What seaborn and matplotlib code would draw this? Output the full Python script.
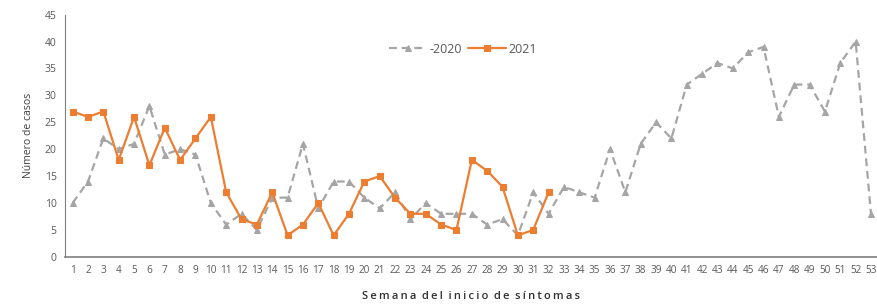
import pandas as pd
import matplotlib.pyplot as plt
import seaborn as sns

# Weekly cases
semanas_2020 = list(range(1, 54))
casos_2020 = [10, 14, 22, 20, 21, 28, 19, 20, 19, 10,
              6, 8, 5, 11, 11, 21, 9, 14, 14, 11,
              9, 12, 7, 10, 8, 8, 8, 6, 7, 4,
              12, 8, 13, 12, 11, 20, 12, 21, 25, 22,
              32, 34, 36, 35, 38, 39, 26, 32, 32, 27,
              36, 40, 8]
semanas_2021 = list(range(1, 33))
casos_2021 = [27, 26, 27, 18, 26, 17, 24, 18, 22, 26,
              12, 7, 6, 12, 4, 6, 10, 4, 8, 14,
              15, 11, 8, 8, 6, 5, 18, 16, 13, 4,
              5, 12]

df_2020 = pd.DataFrame({'semana': semanas_2020, 'casos': casos_2020})
df_2021 = pd.DataFrame({'semana': semanas_2021, 'casos': casos_2021})

sns.set_style('white')
plt.rcParams['font.family'] = ['Open Sans', 'DejaVu Sans']

fig = plt.figure(figsize=(8.78, 3.04), dpi=100)
ax = fig.add_axes([0.074, 0.155, 0.925, 0.797])

gray = '#a5a5a5'
orange = '#ed7d31'

sns.lineplot(data=df_2020, x='semana', y='casos', ax=ax, color=gray,
             linewidth=1.6, marker='^', markersize=4,
             markeredgecolor=gray, label='-2020')
ax.lines[-1].set_dashes([3.5, 2.2])
sns.lineplot(data=df_2021, x='semana', y='casos', ax=ax, color=orange,
             linewidth=1.6, marker='s', markersize=5,
             markeredgecolor=orange, label='2021')

ax.set_xlim(0.5, 53.4)
ax.set_ylim(0, 45)
ax.set_xticks(semanas_2020)
ax.set_xticklabels([str(s) for s in semanas_2020], fontsize=7.2, color='#595959')
ax.set_yticks(range(0, 46, 5))
ax.tick_params(axis='y', labelsize=7.5, labelcolor='#595959', length=0, pad=6)
ax.tick_params(axis='x', length=0, pad=6)

for side in ['top', 'right']:
    ax.spines[side].set_visible(False)
ax.spines['left'].set_color('#7f7f7f')
ax.spines['bottom'].set_color('#7f7f7f')
ax.spines['bottom'].set_linewidth(1.2)

# letter-spaced axis title
xlabel = '\u2009'.join('Semana del inicio de síntomas').replace('\u2009 \u2009', '\u2002')
ax.set_xlabel(xlabel, fontsize=8, color='#303030', fontweight='semibold', labelpad=11)
ax.set_ylabel('Número de casos', fontsize=7.5, color='#404040', labelpad=8)

ax.legend(loc='upper center', bbox_to_anchor=(0.49, 0.93), ncol=2, frameon=False,
          fontsize=9, handlelength=3, columnspacing=0.5, handletextpad=0.2,
          labelcolor='#595959')

plt.savefig('out.png', dpi=100)
plt.close('all')
